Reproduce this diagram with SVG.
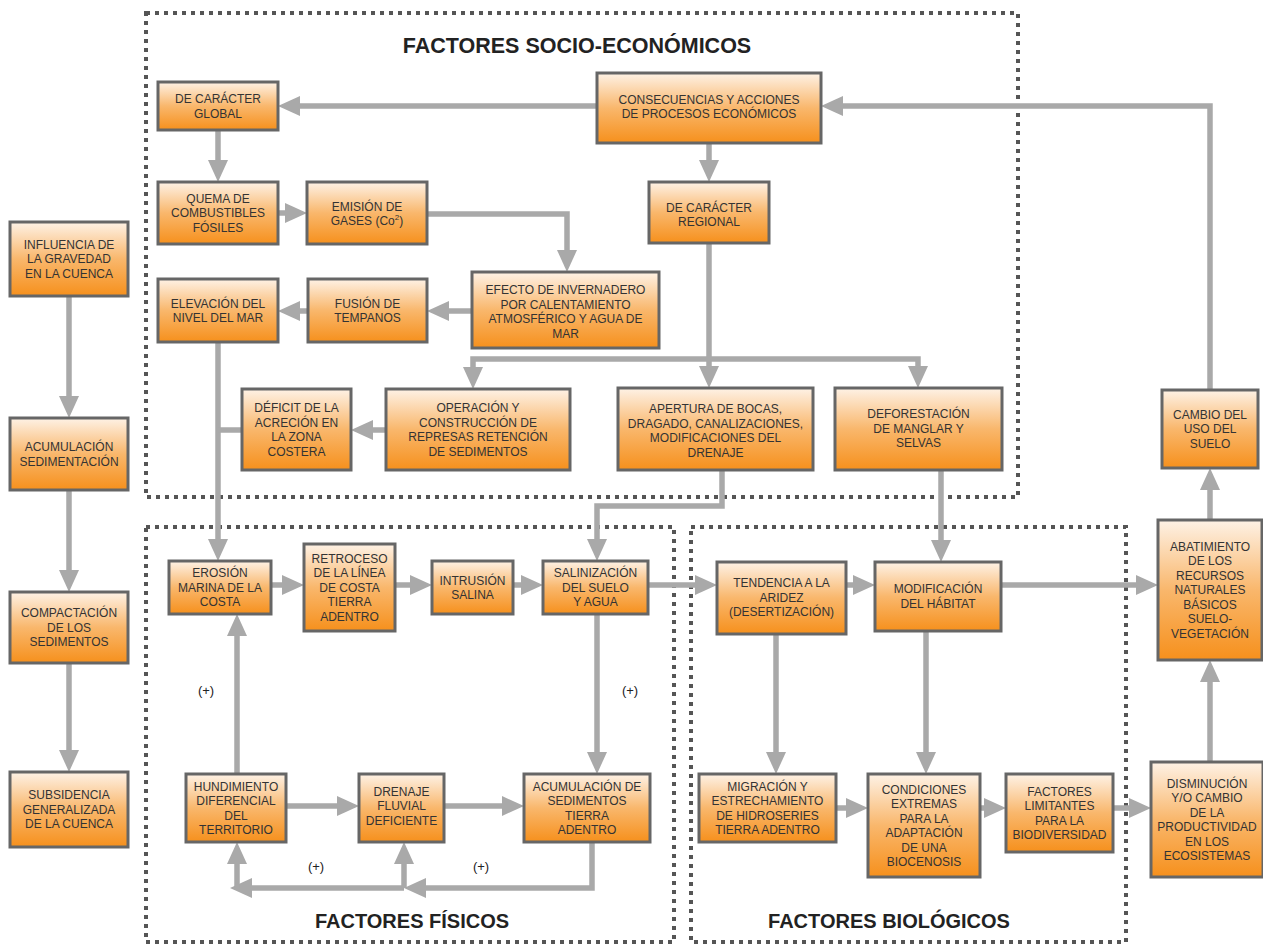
<svg xmlns="http://www.w3.org/2000/svg" width="1263" height="945" viewBox="0 0 1263 945">
<defs>
<linearGradient id="g" x1="0" y1="0" x2="0" y2="1">
<stop offset="0" stop-color="#fef2e6"/>
<stop offset="0.5" stop-color="#f9b76c"/>
<stop offset="1" stop-color="#f6901c"/>
</linearGradient>
<marker id="ah" markerUnits="userSpaceOnUse" markerWidth="22" markerHeight="20" refX="12" refY="10" orient="auto">
<path d="M0,0 L22,10 L0,20 z" fill="#a9a9a9"/>
</marker>
<style>
.box{fill:url(#g);stroke:#666;stroke-width:3}
.t{font-family:"Liberation Sans",Arial,sans-serif;font-size:12px;fill:#333;text-anchor:middle}
.p{font-family:"Liberation Sans",Arial,sans-serif;font-size:13px;fill:#222;text-anchor:middle}
.c{fill:none;stroke:#a9a9a9;stroke-width:5.5;marker-end:url(#ah)}
.l{fill:none;stroke:#a9a9a9;stroke-width:5.5}
.frame{fill:none;stroke:#555;stroke-width:4;stroke-dasharray:4 5}
.title{font-family:"Liberation Sans",Arial,sans-serif;font-weight:bold;font-size:20px;fill:#222;text-anchor:middle}
</style>
</defs>
<rect width="1263" height="945" fill="#fff"/>
<g id="frames">
<rect class="frame" x="146" y="13" width="872" height="484"/>
<rect class="frame" x="146" y="527" width="528" height="415"/>
<rect class="frame" x="691" y="527" width="435" height="415"/>
<text class="title" x="577" y="53" style="font-size:21.5px">FACTORES SOCIO-ECONÓMICOS</text>
<text class="title" x="412" y="928">FACTORES FÍSICOS</text>
<text class="title" x="889" y="928">FACTORES BIOLÓGICOS</text>
</g>
<g id="connectors">
<path class="c" d="M69,296 V408"/>
<path class="c" d="M69,490 V582"/>
<path class="c" d="M69,663 V762"/>
<path class="c" d="M597,106 H288"/>
<path class="c" d="M1210,390 V106 H831"/>
<path class="c" d="M709,143 V172"/>
<path class="c" d="M218,130 V172"/>
<path class="c" d="M278,213 H297"/>
<path class="c" d="M427,214 H567 V262"/>
<path class="c" d="M472,311 H437"/>
<path class="c" d="M308,311 H288"/>
<path class="c" d="M709,243 V378"/>
<path class="c" d="M709,359 H473 V379"/>
<path class="c" d="M709,359 H918 V378"/>
<path class="c" d="M386,430 H361"/>
<path class="c" d="M218,342 V551"/>
<path class="l" d="M242,430 H218"/>
<path class="c" d="M722,470 V506 H597 V551"/>
<path class="c" d="M941,470 V552"/>
<path class="c" d="M271,585 H294"/>
<path class="c" d="M395,585 H422"/>
<path class="c" d="M513,585 H533"/>
<path class="c" d="M648,585 H707"/>
<path class="c" d="M846,585 H865"/>
<path class="c" d="M1001,585 H1148"/>
<path class="c" d="M1210,520 V478"/>
<path class="c" d="M1210,762 V670"/>
<path class="c" d="M597,614 V764"/>
<path class="c" d="M237,774 V624"/>
<path class="c" d="M286,806 H349"/>
<path class="c" d="M444,806 H514"/>
<path class="c" d="M592,842 V888 H414"/>
<path class="c" d="M404,888 H240"/>
<path class="c" d="M237,888 V852"/>
<path class="c" d="M404,888 V852"/>
<path class="c" d="M776,634 V764"/>
<path class="c" d="M926,631 V764"/>
<path class="c" d="M836,808 H858"/>
<path class="c" d="M980,808 H996"/>
<path class="c" d="M1113,808 H1141"/>
</g>
<g id="labels">
<text class="p" x="206" y="695">(+)</text>
<text class="p" x="630" y="695">(+)</text>
<text class="p" x="316" y="871">(+)</text>
<text class="p" x="481" y="871">(+)</text>
</g>
<g id="n-influencia"><rect class="box" x="10" y="222" width="118" height="74"/><text class="t" y="248.8"><tspan x="69">INFLUENCIA DE</tspan><tspan x="69" dy="14.5">LA GRAVEDAD</tspan><tspan x="69" dy="14.5">EN LA CUENCA</tspan></text></g>
<g id="n-acumulacion"><rect class="box" x="10" y="418" width="118" height="72"/><text class="t" y="451"><tspan x="69">ACUMULACIÓN</tspan><tspan x="69" dy="14.5">SEDIMENTACIÓN</tspan></text></g>
<g id="n-compactacion"><rect class="box" x="10" y="592" width="118" height="71"/><text class="t" y="617.3"><tspan x="69">COMPACTACIÓN</tspan><tspan x="69" dy="14.5">DE LOS</tspan><tspan x="69" dy="14.5">SEDIMENTOS</tspan></text></g>
<g id="n-subsidencia"><rect class="box" x="10" y="772" width="118" height="75"/><text class="t" y="799.3"><tspan x="69">SUBSIDENCIA</tspan><tspan x="69" dy="14.5">GENERALIZADA</tspan><tspan x="69" dy="14.5">DE LA CUENCA</tspan></text></g>
<g id="n-global"><rect class="box" x="158" y="82" width="120" height="48"/><text class="t" y="103"><tspan x="218">DE CARÁCTER</tspan><tspan x="218" dy="14.5">GLOBAL</tspan></text></g>
<g id="n-quema"><rect class="box" x="158" y="182" width="120" height="62"/><text class="t" y="202.8"><tspan x="218">QUEMA DE</tspan><tspan x="218" dy="14.5">COMBUSTIBLES</tspan><tspan x="218" dy="14.5">FÓSILES</tspan></text></g>
<g id="n-emision"><rect class="box" x="307" y="182" width="120" height="62"/><text class="t" y="210.5"><tspan x="367">EMISIÓN DE</tspan><tspan x="367" dy="14.5">GASES (Co<tspan style="font-size:8px" dy="-5">2</tspan><tspan dy="5">)</tspan></tspan></text></g>
<g id="n-consecuencias"><rect class="box" x="597" y="73" width="224" height="70"/><text class="t" y="104"><tspan x="709">CONSECUENCIAS Y ACCIONES</tspan><tspan x="709" dy="13.5">DE PROCESOS ECONÓMICOS</tspan></text></g>
<g id="n-regional"><rect class="box" x="649" y="182" width="120" height="61"/><text class="t" y="211.5"><tspan x="709">DE CARÁCTER</tspan><tspan x="709" dy="14.5">REGIONAL</tspan></text></g>
<g id="n-efecto"><rect class="box" x="472" y="272" width="187" height="76"/><text class="t" y="294.3"><tspan x="565.5">EFECTO DE INVERNADERO</tspan><tspan x="565.5" dy="14.5">POR CALENTAMIENTO</tspan><tspan x="565.5" dy="14.5">ATMOSFÉRICO Y AGUA DE</tspan><tspan x="565.5" dy="14.5">MAR</tspan></text></g>
<g id="n-elevacion"><rect class="box" x="158" y="279" width="120" height="63"/><text class="t" y="307.8"><tspan x="218">ELEVACIÓN DEL</tspan><tspan x="218" dy="14.5">NIVEL DEL MAR</tspan></text></g>
<g id="n-fusion"><rect class="box" x="308" y="279" width="119" height="63"/><text class="t" y="307.8"><tspan x="367.5">FUSIÓN DE</tspan><tspan x="367.5" dy="14.5">TEMPANOS</tspan></text></g>
<g id="n-deficit"><rect class="box" x="242" y="389" width="109" height="81"/><text class="t" y="412.3"><tspan x="296.5">DÉFICIT DE LA</tspan><tspan x="296.5" dy="14.5">ACRECIÓN EN</tspan><tspan x="296.5" dy="14.5">LA ZONA</tspan><tspan x="296.5" dy="14.5">COSTERA</tspan></text></g>
<g id="n-operacion"><rect class="box" x="386" y="389" width="184" height="81"/><text class="t" y="412.3"><tspan x="478">OPERACIÓN Y</tspan><tspan x="478" dy="14.5">CONSTRUCCIÓN DE</tspan><tspan x="478" dy="14.5">REPRESAS RETENCIÓN</tspan><tspan x="478" dy="14.5">DE SEDIMENTOS</tspan></text></g>
<g id="n-apertura"><rect class="box" x="618" y="388" width="195" height="82"/><text class="t" y="413.3"><tspan x="715.5">APERTURA DE BOCAS,</tspan><tspan x="715.5" dy="14.5">DRAGADO, CANALIZACIONES,</tspan><tspan x="715.5" dy="14.5">MODIFICACIONES DEL</tspan><tspan x="715.5" dy="14.5">DRENAJE</tspan></text></g>
<g id="n-deforestacion"><rect class="box" x="835" y="388" width="167" height="82"/><text class="t" y="418.3"><tspan x="918.5">DEFORESTACIÓN</tspan><tspan x="918.5" dy="14.5">DE MANGLAR Y</tspan><tspan x="918.5" dy="14.5">SELVAS</tspan></text></g>
<g id="n-erosion"><rect class="box" x="169" y="561" width="102" height="53"/><text class="t" y="577.3"><tspan x="220">EROSIÓN</tspan><tspan x="220" dy="14.5">MARINA DE LA</tspan><tspan x="220" dy="14.5">COSTA</tspan></text></g>
<g id="n-retroceso"><rect class="box" x="304" y="544" width="91" height="87"/><text class="t" y="562.8"><tspan x="349.5">RETROCESO</tspan><tspan x="349.5" dy="14.5">DE LA LÍNEA</tspan><tspan x="349.5" dy="14.5">DE COSTA</tspan><tspan x="349.5" dy="14.5">TIERRA</tspan><tspan x="349.5" dy="14.5">ADENTRO</tspan></text></g>
<g id="n-intrusion"><rect class="box" x="432" y="561" width="81" height="53"/><text class="t" y="584.5"><tspan x="472.5">INTRUSIÓN</tspan><tspan x="472.5" dy="14.5">SALINA</tspan></text></g>
<g id="n-salinizacion"><rect class="box" x="543" y="561" width="105" height="53"/><text class="t" y="577.3"><tspan x="595.5">SALINIZACIÓN</tspan><tspan x="595.5" dy="14.5">DEL SUELO</tspan><tspan x="595.5" dy="14.5">Y AGUA</tspan></text></g>
<g id="n-hundimiento"><rect class="box" x="186" y="774" width="100" height="68"/><text class="t" y="790.5"><tspan x="236">HUNDIMIENTO</tspan><tspan x="236" dy="14.5">DIFERENCIAL</tspan><tspan x="236" dy="14.5">DEL</tspan><tspan x="236" dy="14.5">TERRITORIO</tspan></text></g>
<g id="n-drenaje"><rect class="box" x="359" y="774" width="85" height="68"/><text class="t" y="795.8"><tspan x="401.5">DRENAJE</tspan><tspan x="401.5" dy="14.5">FLUVIAL</tspan><tspan x="401.5" dy="14.5">DEFICIENTE</tspan></text></g>
<g id="n-acumsed"><rect class="box" x="524" y="774" width="126" height="68"/><text class="t" y="790.5"><tspan x="587">ACUMULACIÓN DE</tspan><tspan x="587" dy="14.5">SEDIMENTOS</tspan><tspan x="587" dy="14.5">TIERRA</tspan><tspan x="587" dy="14.5">ADENTRO</tspan></text></g>
<g id="n-tendencia"><rect class="box" x="717" y="562" width="129" height="72"/><text class="t" y="587.3"><tspan x="781.5">TENDENCIA A LA</tspan><tspan x="781.5" dy="14.5">ARIDEZ</tspan><tspan x="781.5" dy="14.5">(DESERTIZACIÓN)</tspan></text></g>
<g id="n-modificacion"><rect class="box" x="875" y="562" width="126" height="69"/><text class="t" y="593.3"><tspan x="938">MODIFICACIÓN</tspan><tspan x="938" dy="14.5">DEL HÁBITAT</tspan></text></g>
<g id="n-abatimiento"><rect class="box" x="1158" y="520" width="104" height="140"/><text class="t" y="550.8"><tspan x="1210">ABATIMIENTO</tspan><tspan x="1210" dy="14.5">DE LOS</tspan><tspan x="1210" dy="14.5">RECURSOS</tspan><tspan x="1210" dy="14.5">NATURALES</tspan><tspan x="1210" dy="14.5">BÁSICOS</tspan><tspan x="1210" dy="14.5">SUELO-</tspan><tspan x="1210" dy="14.5">VEGETACIÓN</tspan></text></g>
<g id="n-cambio"><rect class="box" x="1162" y="390" width="96" height="78"/><text class="t" y="418.8"><tspan x="1210">CAMBIO DEL</tspan><tspan x="1210" dy="14.5">USO DEL</tspan><tspan x="1210" dy="14.5">SUELO</tspan></text></g>
<g id="n-migracion"><rect class="box" x="699" y="774" width="137" height="68"/><text class="t" y="790.5"><tspan x="767.5">MIGRACIÓN Y</tspan><tspan x="767.5" dy="14.5">ESTRECHAMIENTO</tspan><tspan x="767.5" dy="14.5">DE HIDROSERIES</tspan><tspan x="767.5" dy="14.5">TIERRA ADENTRO</tspan></text></g>
<g id="n-condiciones"><rect class="box" x="868" y="774" width="112" height="103"/><text class="t" y="793.5"><tspan x="924">CONDICIONES</tspan><tspan x="924" dy="14.5">EXTREMAS</tspan><tspan x="924" dy="14.5">PARA LA</tspan><tspan x="924" dy="14.5">ADAPTACIÓN</tspan><tspan x="924" dy="14.5">DE UNA</tspan><tspan x="924" dy="14.5">BIOCENOSIS</tspan></text></g>
<g id="n-factores"><rect class="box" x="1006" y="774" width="107" height="78"/><text class="t" y="795.5"><tspan x="1059.5">FACTORES</tspan><tspan x="1059.5" dy="14.5">LIMITANTES</tspan><tspan x="1059.5" dy="14.5">PARA LA</tspan><tspan x="1059.5" dy="14.5">BIODIVERSIDAD</tspan></text></g>
<g id="n-disminucion"><rect class="box" x="1151" y="762" width="112" height="115"/><text class="t" y="787.5"><tspan x="1207">DISMINUCIÓN</tspan><tspan x="1207" dy="14.5">Y/O CAMBIO</tspan><tspan x="1207" dy="14.5">DE LA</tspan><tspan x="1207" dy="14.5">PRODUCTIVIDAD</tspan><tspan x="1207" dy="14.5">EN LOS</tspan><tspan x="1207" dy="14.5">ECOSISTEMAS</tspan></text></g>
</svg>
